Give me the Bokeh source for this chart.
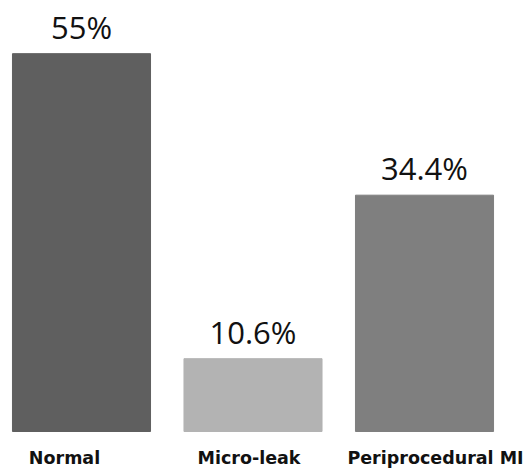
import numpy as np
from bokeh.plotting import figure
from bokeh.models import ColumnDataSource, Range1d
from bokeh.core.properties import value
from bokeh.embed import file_html
from bokeh.resources import INLINE

categories = ["Normal", "Micro-leak", "Periprocedural MI"]
percentages = [55.0, 10.6, 34.4]
value_labels = ["55%", "10.6%", "34.4%"]
bar_colors = ["#5f5f5f", "#b3b3b3", "#7f7f7f"]
label_dx = [-17, -4, 11]

x = np.arange(len(categories))
src = ColumnDataSource(dict(x=x, top=percentages, color=bar_colors,
                            vlab=value_labels, cat=categories, dx=label_dx))

p = figure(width=525, height=468, output_backend="svg", toolbar_location=None,
           x_range=Range1d(-0.4723, 2.5889), y_range=Range1d(-5.386, 62.74),
           min_border=0, outline_line_color=None)
p.xaxis.visible = False
p.yaxis.visible = False
p.grid.visible = False
p.background_fill_color = "white"
p.border_fill_color = "white"

p.vbar(x="x", top="top", bottom=0, width=0.805, fill_color="color",
       line_color="color", source=src)

p.text(x="x", y="top", text="vlab", source=src, text_align="center",
       text_baseline="bottom", y_offset=-6, text_font=value("Open Sans"),
       text_font_size="31px", text_color="#111111")

p.text(x="x", y=0, text="cat", source=src, text_align="center",
       text_baseline="top", x_offset="dx", y_offset=16, text_font=value("DejaVu Sans"),
       text_font_style="bold", text_font_size="17.5px", text_color="#111111")

open("out.html", "w").write(file_html(p, INLINE))
